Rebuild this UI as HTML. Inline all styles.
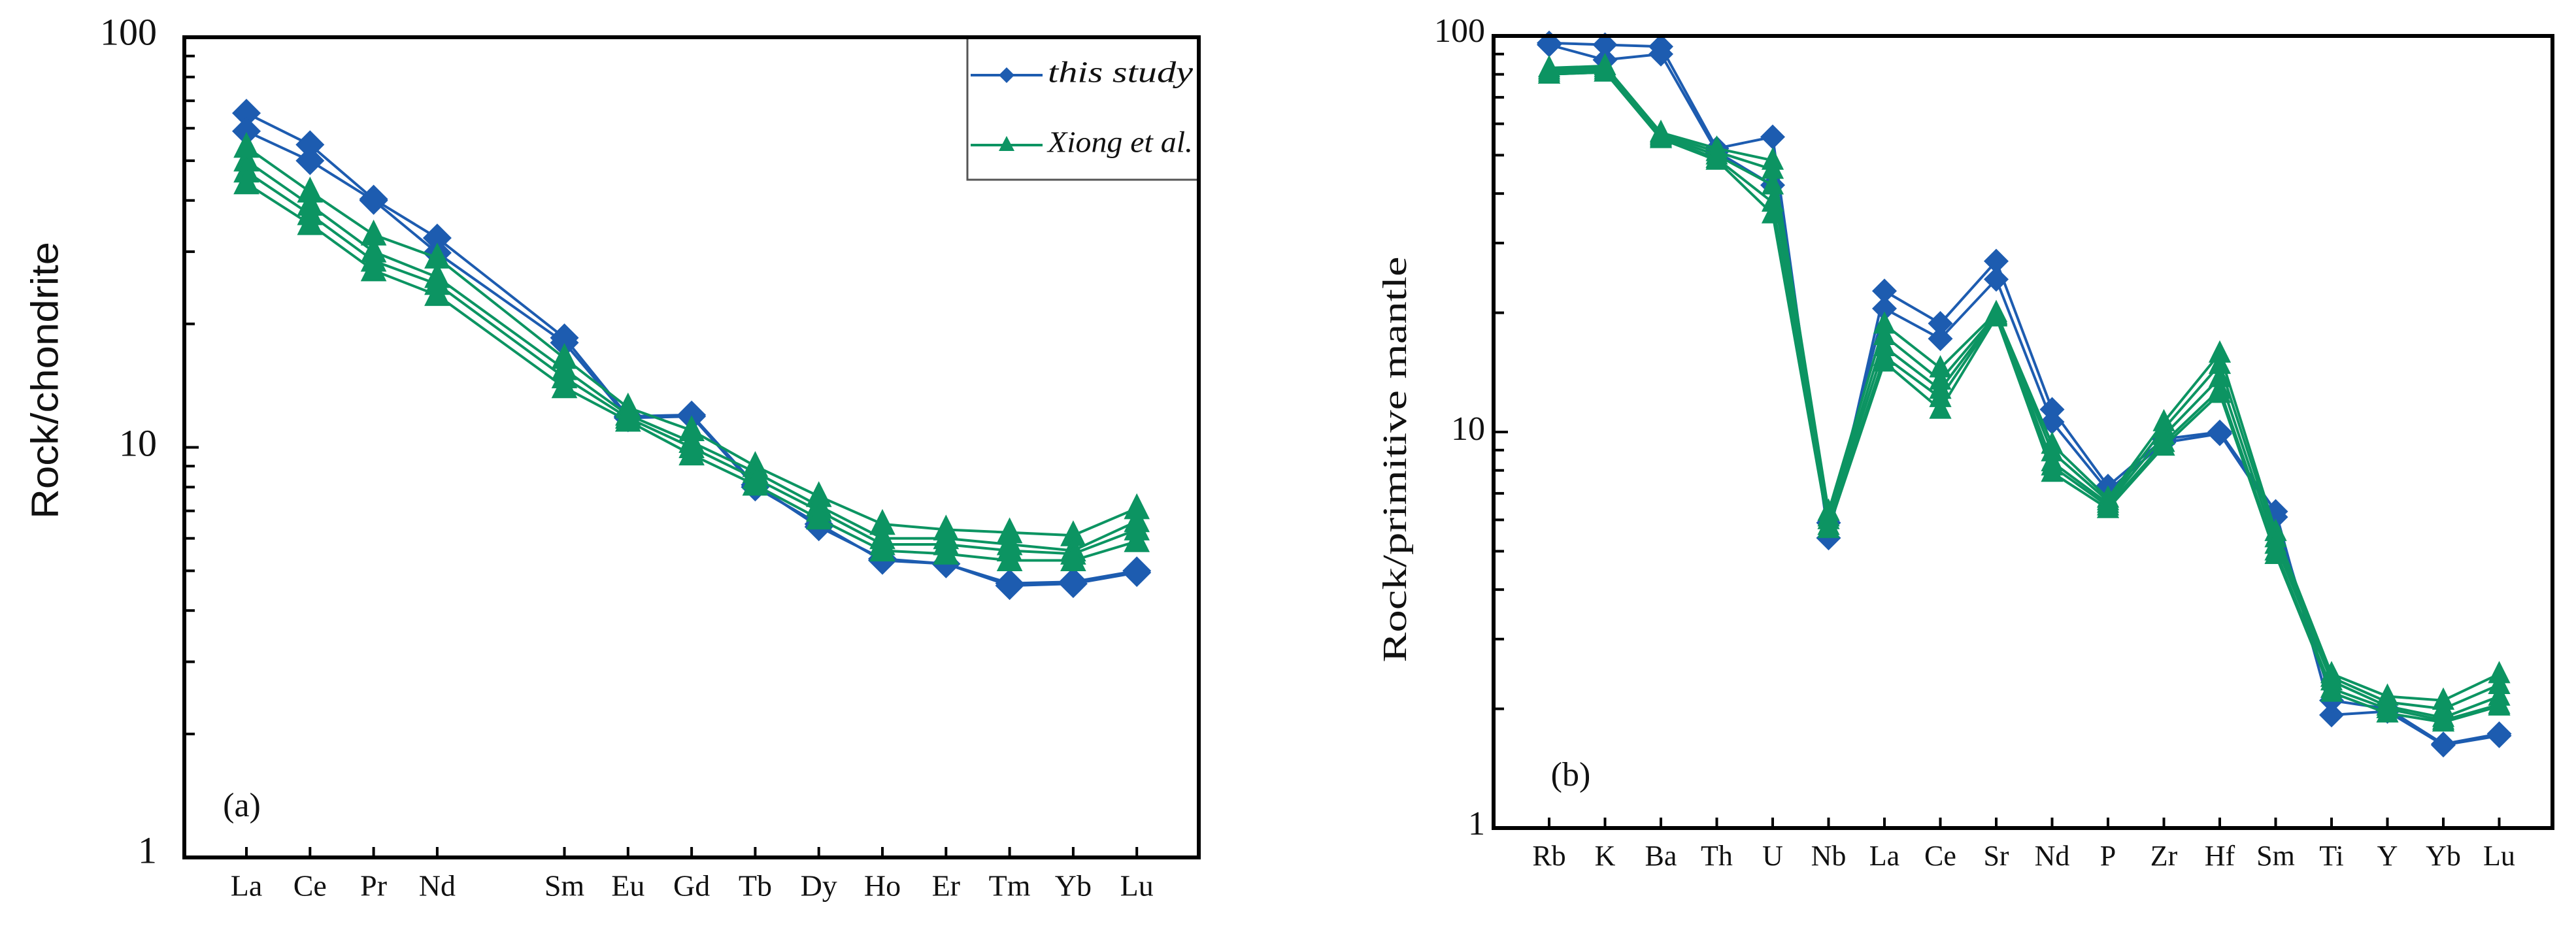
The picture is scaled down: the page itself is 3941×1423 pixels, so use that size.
<!DOCTYPE html>
<html><head><meta charset="utf-8"><style>
html,body{margin:0;padding:0;background:#fff;}
svg{display:block;}
</style></head><body>
<svg id="fig" width="3941" height="1423" viewBox="0 0 3941 1423" xmlns="http://www.w3.org/2000/svg">
<rect x="0" y="0" width="3941" height="1423" fill="#fff"/>
<g id="pa"></g>
<g id="pb"></g>
</svg>
<script>
// ---- Panel (a) data ----
const catsA = ["La","Ce","Pr","Nd","Sm","Eu","Gd","Tb","Dy","Ho","Er","Tm","Yb","Lu"];
const slotsA = [0,1,2,3,5,6,7,8,9,10,11,12,13,14];
const blueA1 = [65.3,54.7,40.3,32.4,18.5,11.9,12.0,8.1,6.4,5.35,5.2,4.66,4.7,5.0];
const blueA2 = [59,50,40,29.8,18.0,11.8,11.9,8.0,6.5,5.3,5.2,4.6,4.65,4.95];
const greenA1 = [54,42,33,29,16.5,12.5,11,9,7.6,6.5,6.3,6.2,6.1,7.1];
const greenA2 = [50,39,30,26,15.5,12,10.3,8.7,7.2,6.0,6.0,5.8,5.6,6.6];
const greenA3 = [47,37,28.5,25,14.8,11.8,10,8.4,7.0,5.8,5.8,5.6,5.5,6.3];
const greenA4 = [44,35,27,23.5,14,11.6,9.6,8.1,6.7,5.6,5.5,5.3,5.3,5.9];
const yTicksA = ["1","10","100"];
// ---- Panel (b) data ----
const catsB = ["Rb","K","Ba","Th","U","Nb","La","Ce","Sr","Nd","P","Zr","Hf","Sm","Ti","Y","Yb","Lu"];
const blueB1 = [96,95,94,52,55.6,5.4,22.7,18.8,27,11.4,7.3,9.6,10.0,6.3,1.93,1.97,1.62,1.71];
const blueB2 = [95,87,90,51,42,5.9,20.5,17.2,24.3,10.6,7.1,9.4,9.9,6.1,2.1,2.0,1.63,1.73];
const greenB1 = [83,84,57,52,48.5,6.3,18.7,14.5,20,9.3,6.8,10.6,15.8,5.6,2.45,2.15,2.1,2.45];
const greenB2 = [82,83,56.5,51,46,6.1,17.5,13.5,19.8,8.9,6.7,10.2,14.8,5.4,2.4,2.08,2.0,2.3];
const greenB3 = [81,82,56,50,42,6.0,16.4,12.8,19.7,8.4,6.6,9.8,13.7,5.2,2.35,2.03,1.9,2.15];
const greenB4 = [80,81,55.5,49,38,5.8,15.5,12.2,19.6,8.2,6.5,9.4,12.8,5.0,2.25,2.0,1.87,2.05];
const greenB5 = [80,81,55,48.5,35.5,5.7,15,11.4,19.5,7.9,6.4,9.2,12.5,4.9,2.2,1.95,1.85,2.03];
const yTicksB = ["1","10","100"];

const NS = "http://www.w3.org/2000/svg";
const BLUE = "#1d5cb0", GREEN = "#0c9462";
function mk(parent, tag, attrs){ const e=document.createElementNS(NS,tag); for(const k in attrs) e.setAttribute(k,attrs[k]); parent.appendChild(e); return e; }

function panel(g, cfg){
  const {x0,x1,yTop,yBot,slotX,cats,slots,series,yTicks,title,titleX,titleY,titleLen,titleFont,titleSize,labelFont,labelSize,labelY,tickLabelSize,tickLabelX,tickLabelYs,tag,tagX,tagY,msize} = cfg;
  const ys = v => yTop + (2 - Math.log10(v)) * (yBot - yTop) / 2;
  const xs = i => slotX(slots ? slots[i] : i);
  const fr = mk(g,"rect",{x:x0,y:yTop,width:x1-x0,height:yBot-yTop,fill:"none",stroke:"#000","stroke-width":6});
  
  
  for(let d=0; d<2; d++){
    for(let m=2;m<=10;m++){
      const v = Math.pow(10,d)*m;
      if(v>=100) continue;
      const y = ys(v);
      const t = mk(g,"line",{x1:x0,x2:x0+(m===10?22:16),y1:y,y2:y,stroke:"#000","stroke-width":4});
      
      
    }
  }
  yTicks.forEach((lab,i)=>{
    const t = mk(g,"text",{x:tickLabelX, y:tickLabelYs[i], "font-family":"Liberation Serif, serif","font-size":tickLabelSize,"text-anchor":"end","dominant-baseline":"middle",fill:"#111"});
    t.textContent = lab;
    
    
  });
  cats.forEach((c,i)=>{
    const x = xs(i);
    const t = mk(g,"line",{x1:x,x2:x,y1:yBot,y2:yBot-16,stroke:"#000","stroke-width":4});
    
    
    const l = mk(g,"text",{x:x, y:labelY, "font-family":labelFont,"font-size":labelSize,"text-anchor":"middle","dominant-baseline":"middle",fill:"#111"});
    l.textContent = c;
    
    
  });
  series.forEach(s=>{
    const sg = mk(g,"g",{});
    
    
    const pts = s.vals.map((v,i)=>xs(i)+","+ys(v)).join(" ");
    const pl = mk(sg,"polyline",{points:pts,fill:"none",stroke:s.color,"stroke-width":4,"stroke-linejoin":"round"});
    
    
    s.vals.forEach((v,i)=>{
      const x=xs(i), y=ys(v), r=msize;
      let m;
      if(s.marker==="d"){
        m = mk(sg,"polygon",{points:`${x},${y-r} ${x+r},${y} ${x},${y+r} ${x-r},${y}`,fill:s.color});
      } else {
        m = mk(sg,"polygon",{points:`${x},${y-r*1.05} ${x+r*0.9},${y+r*0.75} ${x-r*0.9},${y+r*0.75}`,fill:s.color});
      }
      
      
    });
  });
  const tt = mk(g,"text",{x:titleX,y:titleY,"font-family":titleFont,"font-size":titleSize,"text-anchor":"middle","dominant-baseline":"middle",fill:"#111",transform:`rotate(-90 ${titleX} ${titleY})`,textLength:titleLen,lengthAdjust:"spacingAndGlyphs"});
  tt.textContent = title;
  
  
  const tg = mk(g,"text",{x:tagX,y:tagY,"font-family":"Liberation Serif, serif","font-size":52,"text-anchor":"middle","dominant-baseline":"middle",fill:"#111"});
  tg.textContent = tag;
  
  
}

const ga = document.getElementById("pa");
panel(ga,{
  x0:282,x1:1834,yTop:57,yBot:1312,
  slotX:s=>377+s*97.3, cats:catsA, slots:slotsA,
  series:[
    {name:"this-study-sample-1",vals:blueA1,color:BLUE,marker:"d"},
    {name:"this-study-sample-2",vals:blueA2,color:BLUE,marker:"d"},
    {name:"xiong-sample-1",vals:greenA1,color:GREEN,marker:"t"},
    {name:"xiong-sample-2",vals:greenA2,color:GREEN,marker:"t"},
    {name:"xiong-sample-3",vals:greenA3,color:GREEN,marker:"t"},
    {name:"xiong-sample-4",vals:greenA4,color:GREEN,marker:"t"}
  ],
  yTicks:yTicksA, tickLabelX:240, tickLabelYs:[1307,684,55], tickLabelSize:58,
  title:"Rock/chondrite", titleX:73, titleY:582, titleLen:424, titleFont:"Liberation Sans, sans-serif", titleSize:58,
  labelFont:"Liberation Serif, serif", labelSize:46, labelY:1360,
  tag:"(a)", tagX:370, tagY:1237, msize:22
});
(function(){
  const lg = mk(ga,"g",{});
  
  
  const box = mk(lg,"rect",{x:1480,y:57,width:354,height:218,fill:"#fff",stroke:"#555","stroke-width":3});
  
  
  const ents=[["this study",BLUE,115,"d"],["Xiong et al.",GREEN,222,"t"]];
  ents.forEach(e=>{
    const eg = mk(lg,"g",{});
    
    
    mk(eg,"line",{x1:1485,x2:1595,y1:e[2],y2:e[2],stroke:e[1],"stroke-width":4});
    const x=1540,y=e[2];
    if(e[3]==="d") mk(eg,"polygon",{points:`${x},${y-12} ${x+12},${y} ${x},${y+12} ${x-12},${y}`,fill:e[1]});
    else mk(eg,"polygon",{points:`${x},${y-14} ${x+12},${y+9} ${x-12},${y+9}`,fill:e[1]});
    const t = mk(eg,"text",{x:1603,y:y,"font-family":"Liberation Serif, serif","font-size":46,"font-style":"italic","dominant-baseline":"middle",fill:"#111",textLength:222,lengthAdjust:"spacingAndGlyphs"});
    t.textContent = e[0];
  });
  mk(ga,"rect",{x:282,y:57,width:1552,height:1255,fill:"none",stroke:"#000","stroke-width":6});
})();

const gb = document.getElementById("pb");
panel(gb,{
  x0:2285,x1:3905,yTop:55,yBot:1267,
  slotX:s=>2370+s*85.5, cats:catsB, slots:null,
  series:[
    {name:"this-study-sample-1",vals:blueB1,color:BLUE,marker:"d"},
    {name:"this-study-sample-2",vals:blueB2,color:BLUE,marker:"d"},
    {name:"xiong-sample-1",vals:greenB1,color:GREEN,marker:"t"},
    {name:"xiong-sample-2",vals:greenB2,color:GREEN,marker:"t"},
    {name:"xiong-sample-3",vals:greenB3,color:GREEN,marker:"t"},
    {name:"xiong-sample-4",vals:greenB4,color:GREEN,marker:"t"},
    {name:"xiong-sample-5",vals:greenB5,color:GREEN,marker:"t"}
  ],
  yTicks:yTicksB, tickLabelX:2272, tickLabelYs:[1265,661,52], tickLabelSize:52,
  title:"Rock/primitive mantle", titleX:2139, titleY:703, titleLen:621, titleFont:"Liberation Serif, serif", titleSize:52,
  labelFont:"Liberation Serif, serif", labelSize:44, labelY:1314,
  tag:"(b)", tagX:2403, tagY:1190, msize:19
});
mk(gb,"rect",{x:2285,y:55,width:1620,height:1212,fill:"none",stroke:"#000","stroke-width":6});
</script>
</body></html>
